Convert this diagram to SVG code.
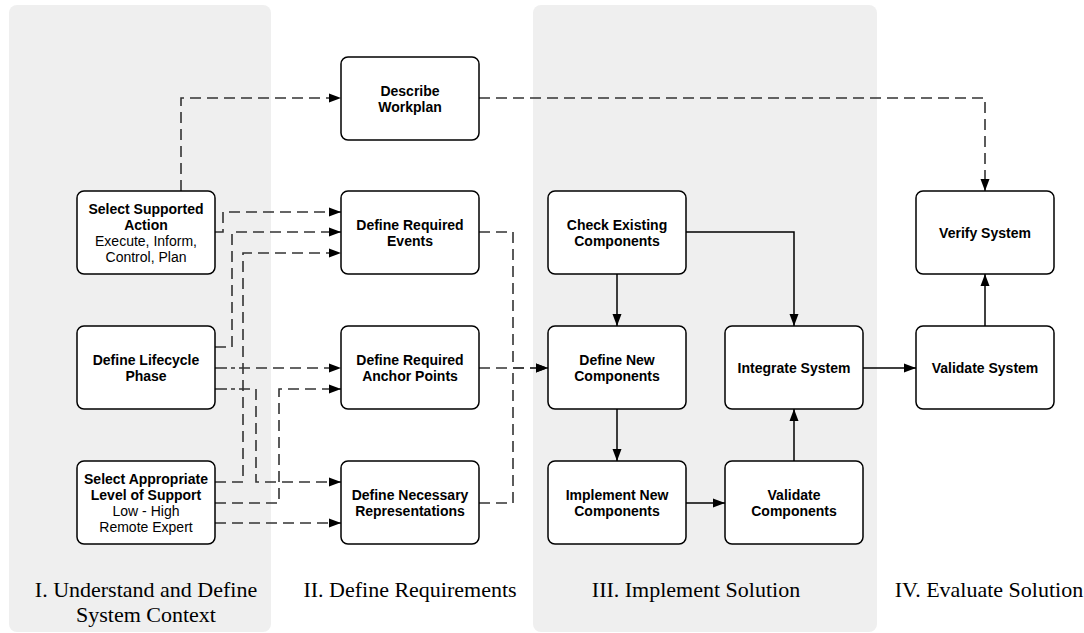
<svg xmlns="http://www.w3.org/2000/svg" width="1084" height="633" viewBox="0 0 1084 633">
<style>
.panel{fill:#efefef;stroke:none}
.box{fill:#ffffff;stroke:#000000;stroke-width:1.5}
.t{font-family:"Liberation Sans",Arial,sans-serif;font-size:14px;text-anchor:middle;fill:#000}
.b{font-weight:bold}
.d{fill:none;stroke:#333333;stroke-width:1.6;stroke-dasharray:11 6}
.s{fill:none;stroke:#000000;stroke-width:1.5}
.cap{font-family:"Liberation Serif","Times New Roman",serif;font-size:22px;text-anchor:middle;fill:#000}
</style>
<defs>
<marker id="ah" markerUnits="userSpaceOnUse" markerWidth="12" markerHeight="10" refX="12" refY="5" orient="auto">
<path d="M0,0.5 L12,5 L0,9.5 Z" fill="#000"/>
</marker>
</defs>
<g id="panels">
<rect class="panel" x="9" y="5" width="262" height="627" rx="8"/>
<rect class="panel" x="533" y="5" width="344" height="627" rx="8"/>
</g>
<g id="connectors">
<path class="d" d="M181,191 V98 H341" marker-end="url(#ah)"/>
<path class="d" d="M479,98 H985 V191" marker-end="url(#ah)"/>
<path class="d" d="M215,232 H223 V212 H341" marker-end="url(#ah)"/>
<path class="d" d="M215,347 H232 V232 H341" marker-end="url(#ah)"/>
<path class="d" d="M215,482 H243 V253 H341" marker-end="url(#ah)"/>
<path class="d" style="stroke-dasharray:12 4 4 4 11 6 11 6 11 6 11 6 11 6 11 6 11 6" d="M215,368 H341" marker-end="url(#ah)"/>
<path class="d" style="stroke-dasharray:12 4 4 4 11 6 11 6 11 6 11 6 11 6 11 6 11 6 11 6 11 6 11 6 11 6 11 6 11 6" d="M215,389 H256 V482 H341" marker-end="url(#ah)"/>
<path class="d" d="M215,503 H279 V389 H341" marker-end="url(#ah)"/>
<path class="d" d="M215,523 H341" marker-end="url(#ah)"/>
<path class="d" d="M479,232 H513 V368 H548" marker-end="url(#ah)"/>
<path class="d" d="M479,368 H548" marker-end="url(#ah)"/>
<path class="d" d="M479,503 H513 V368"/>
<path class="s" d="M617,274 V326" marker-end="url(#ah)"/>
<path class="s" d="M686,232 H794 V326" marker-end="url(#ah)"/>
<path class="s" d="M617,409 V461" marker-end="url(#ah)"/>
<path class="s" d="M686,503 H725" marker-end="url(#ah)"/>
<path class="s" d="M794,461 V409" marker-end="url(#ah)"/>
<path class="s" d="M863,368 H916" marker-end="url(#ah)"/>
<path class="s" d="M985,326 V274" marker-end="url(#ah)"/>
</g>
<g id="describe-workplan">
<rect class="box" x="341" y="57" width="138" height="83" rx="7"/>
<text class="t b" x="410" y="95.5">Describe</text>
<text class="t b" x="410" y="111.5">Workplan</text>
</g>
<g id="select-supported-action">
<rect class="box" x="77" y="191" width="138" height="83" rx="7"/>
<text class="t b" x="146" y="213.5">Select Supported</text>
<text class="t b" x="146" y="229.5">Action</text>
<text class="t" x="146" y="245.5">Execute, Inform,</text>
<text class="t" x="146" y="261.5">Control, Plan</text>
</g>
<g id="define-lifecycle-phase">
<rect class="box" x="77" y="326" width="138" height="83" rx="7"/>
<text class="t b" x="146" y="364.5">Define Lifecycle</text>
<text class="t b" x="146" y="380.5">Phase</text>
</g>
<g id="select-level-of-support">
<rect class="box" x="77" y="461" width="138" height="83" rx="7"/>
<text class="t b" x="146" y="483.5">Select Appropriate</text>
<text class="t b" x="146" y="499.5">Level of Support</text>
<text class="t" x="146" y="515.5">Low - High</text>
<text class="t" x="146" y="531.5">Remote Expert</text>
</g>
<g id="define-required-events">
<rect class="box" x="341" y="191" width="138" height="83" rx="7"/>
<text class="t b" x="410" y="229.5">Define Required</text>
<text class="t b" x="410" y="245.5">Events</text>
</g>
<g id="define-required-anchor-points">
<rect class="box" x="341" y="326" width="138" height="83" rx="7"/>
<text class="t b" x="410" y="364.5">Define Required</text>
<text class="t b" x="410" y="380.5">Anchor Points</text>
</g>
<g id="define-necessary-representations">
<rect class="box" x="341" y="461" width="138" height="83" rx="7"/>
<text class="t b" x="410" y="499.5">Define Necessary</text>
<text class="t b" x="410" y="515.5">Representations</text>
</g>
<g id="check-existing-components">
<rect class="box" x="548" y="191" width="138" height="83" rx="7"/>
<text class="t b" x="617" y="229.5">Check Existing</text>
<text class="t b" x="617" y="245.5">Components</text>
</g>
<g id="define-new-components">
<rect class="box" x="548" y="326" width="138" height="83" rx="7"/>
<text class="t b" x="617" y="364.5">Define New</text>
<text class="t b" x="617" y="380.5">Components</text>
</g>
<g id="implement-new-components">
<rect class="box" x="548" y="461" width="138" height="83" rx="7"/>
<text class="t b" x="617" y="499.5">Implement New</text>
<text class="t b" x="617" y="515.5">Components</text>
</g>
<g id="integrate-system">
<rect class="box" x="725" y="326" width="138" height="83" rx="7"/>
<text class="t b" x="794" y="372.5">Integrate System</text>
</g>
<g id="validate-components">
<rect class="box" x="725" y="461" width="138" height="83" rx="7"/>
<text class="t b" x="794" y="499.5">Validate</text>
<text class="t b" x="794" y="515.5">Components</text>
</g>
<g id="verify-system">
<rect class="box" x="916" y="191" width="138" height="83" rx="7"/>
<text class="t b" x="985" y="237.5">Verify System</text>
</g>
<g id="validate-system">
<rect class="box" x="916" y="326" width="138" height="83" rx="7"/>
<text class="t b" x="985" y="372.5">Validate System</text>
</g>
<g id="phase-labels">
<text class="cap" x="146" y="597">I. Understand and Define</text>
<text class="cap" x="146" y="622">System Context</text>
<text class="cap" x="410" y="597">II. Define Requirements</text>
<text class="cap" x="696" y="597">III. Implement Solution</text>
<text class="cap" x="989" y="597">IV. Evaluate Solution</text>
</g>
</svg>
